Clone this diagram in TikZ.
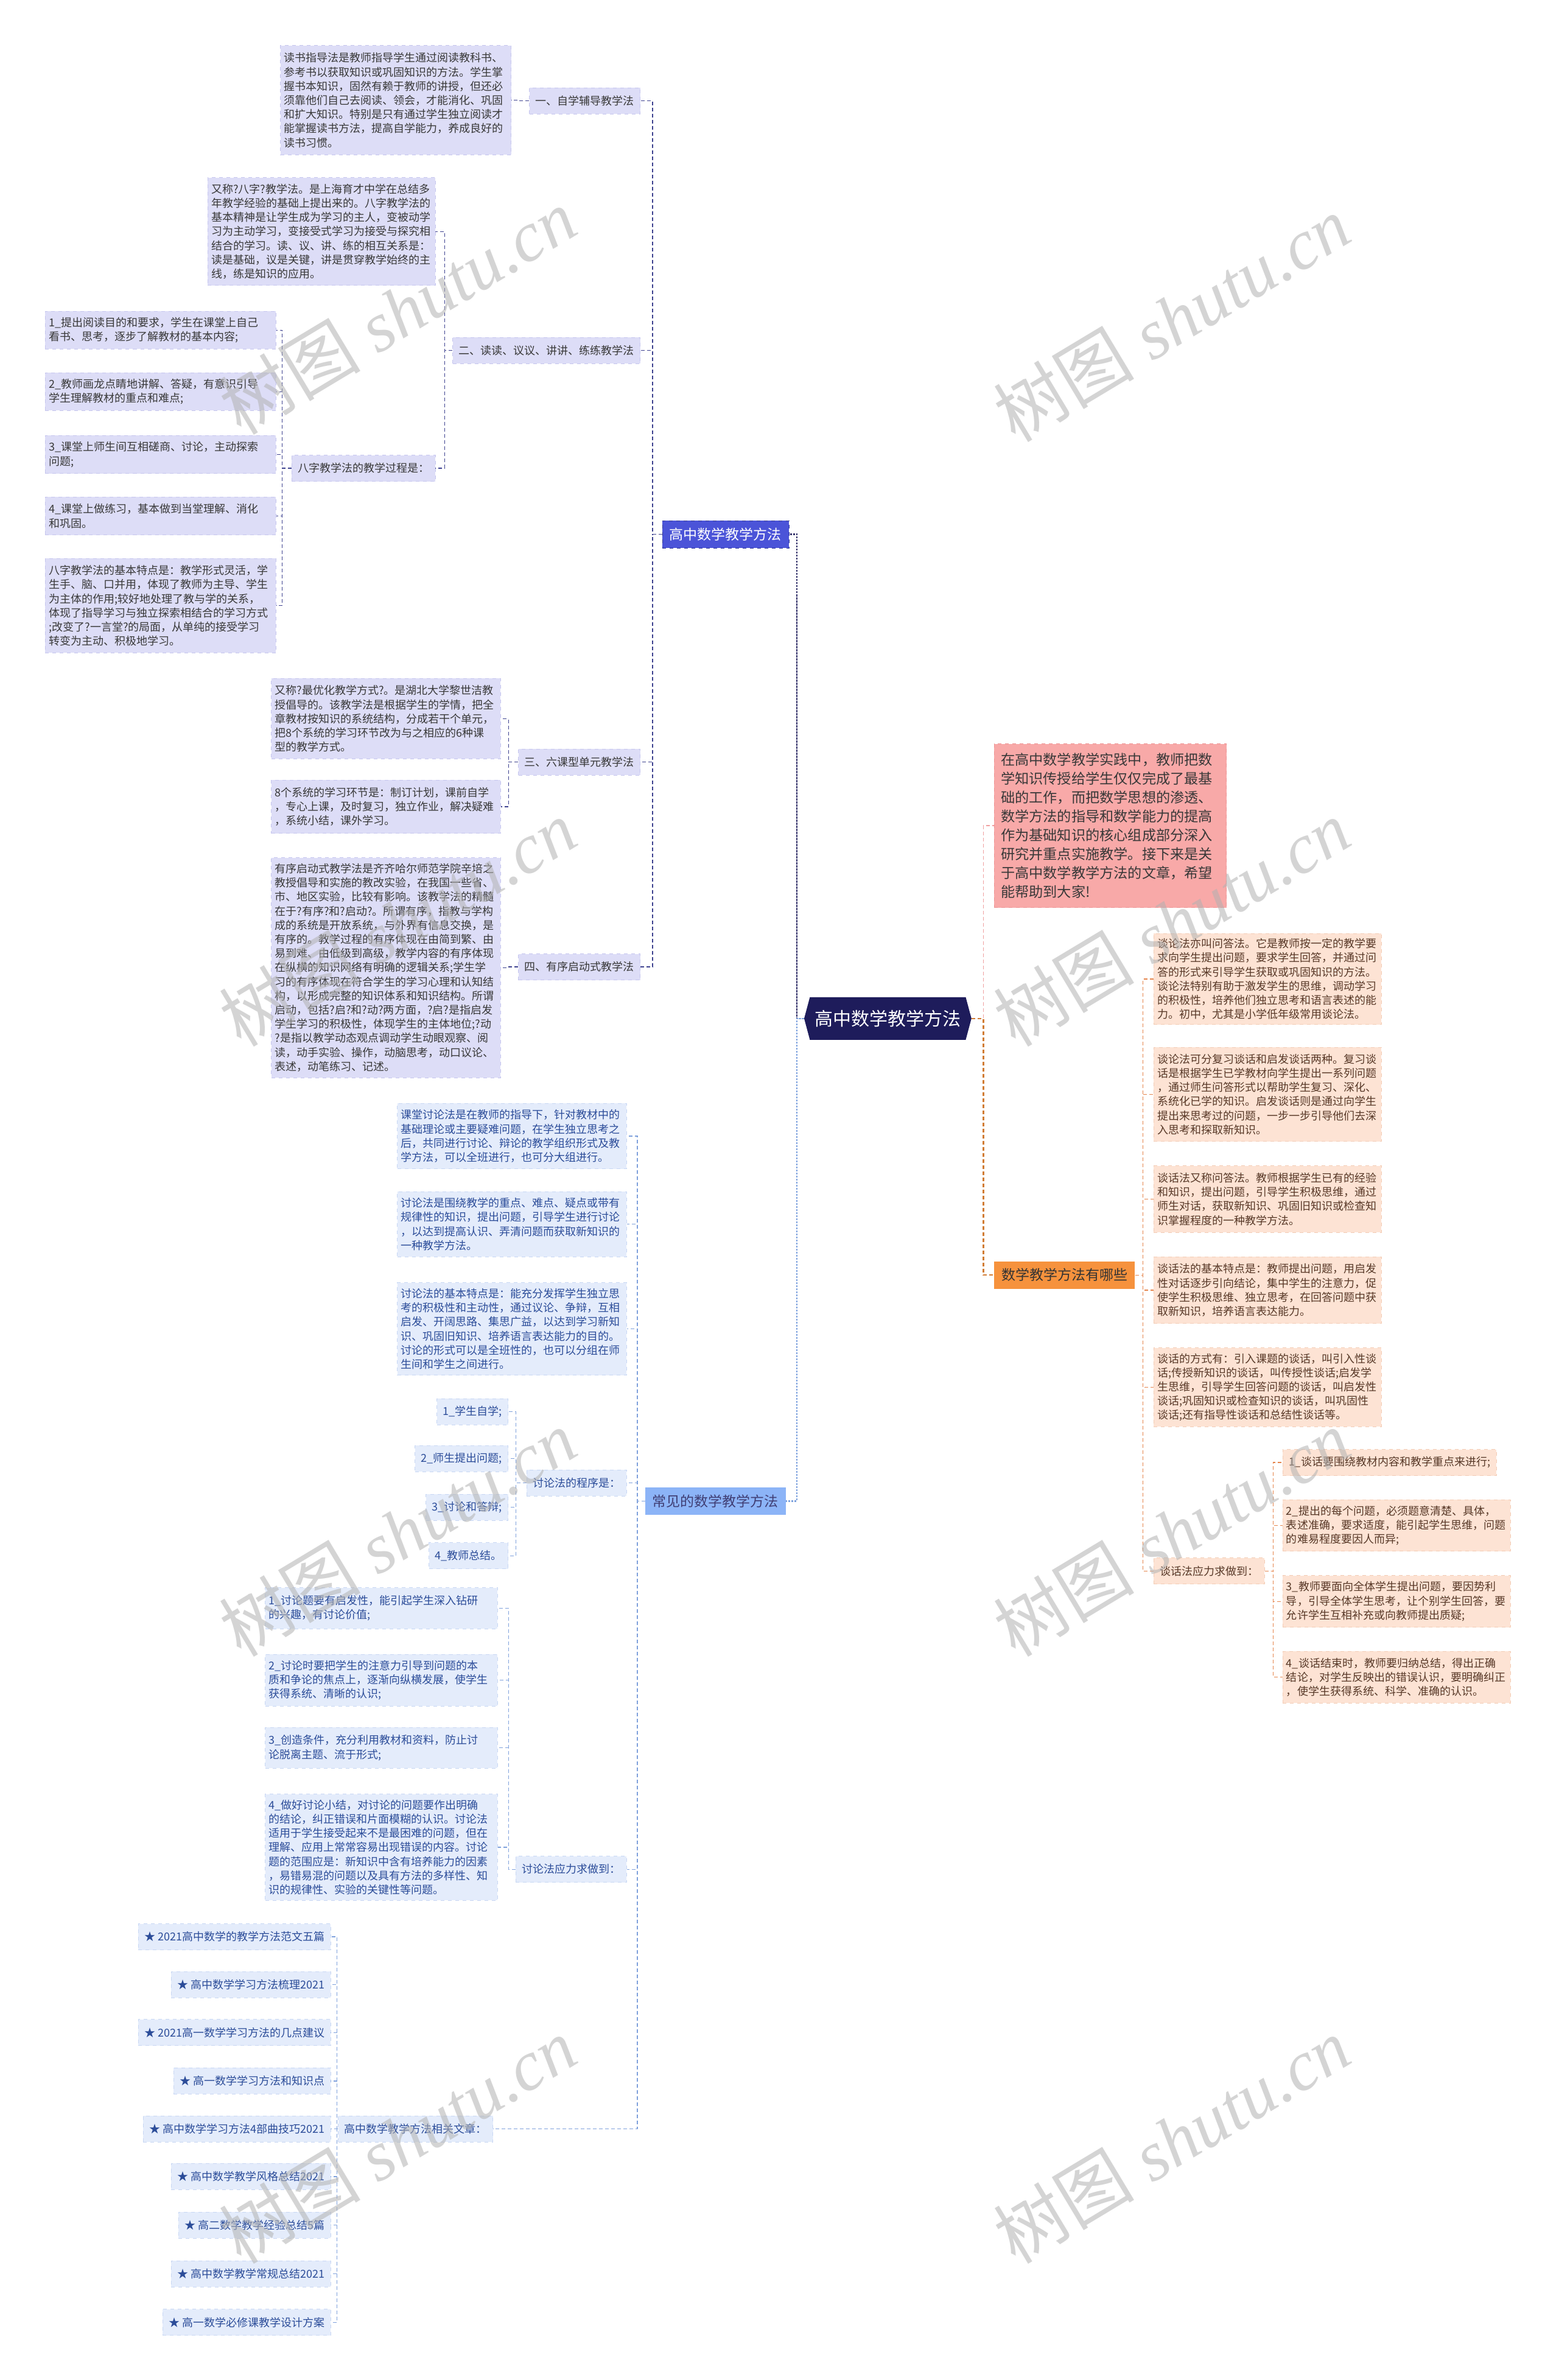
\documentclass[tikz,border=0pt]{standalone}
\usepackage{fontspec}
\setmainfont{Noto Sans CJK SC}
\newfontfamily\wmserif{Liberation Serif}
\usetikzlibrary{shapes.symbols}
\definecolor{navyC}{HTML}{1E1C5B}
\definecolor{blueL}{HTML}{4B54D8}
\definecolor{lavC}{HTML}{DDDDF7}
\definecolor{lavD}{HTML}{C6C6EE}
\definecolor{txtC}{HTML}{383838}
\definecolor{uline}{HTML}{3D418F}
\definecolor{lblueL}{HTML}{8CB4F7}
\definecolor{lbF}{HTML}{E4ECFB}
\definecolor{lbD}{HTML}{C8D7F3}
\definecolor{lbT}{HTML}{2B4C99}
\definecolor{lline}{HTML}{7FA1DC}
\definecolor{pinkC}{HTML}{F8A9A8}
\definecolor{pinkD}{HTML}{EE9494}
\definecolor{orC}{HTML}{F6923D}
\definecolor{peachC}{HTML}{FDE3D4}
\definecolor{peachD}{HTML}{F3CCB5}
\definecolor{peachT}{HTML}{573827}
\definecolor{oline}{HTML}{E5844B}
\definecolor{pline}{HTML}{F0A0A0}
\tikzset{
  body/.style={font=\fontsize{9}{11.6}\selectfont, align=left, inner xsep=3pt, inner ysep=2pt},
  ub/.style={body, fill=lavC, draw=lavD, dashed, line width=0.4pt, text=txtC},
  lb/.style={body, fill=lbF, draw=lbD, dashed, line width=0.4pt, text=lbT},
  pb/.style={body, fill=peachC, draw=peachD, dashed, line width=0.4pt, text=peachT},
  lab/.style={font=\fontsize{9}{11}\selectfont, inner xsep=5pt, inner ysep=0pt, minimum height=21.5pt, dashed, line width=0.4pt},
  ul/.style={lab, fill=lavC, draw=lavD, text=txtC},
  ll/.style={lab, fill=lbF, draw=lbD, text=lbT},
  pl/.style={lab, fill=peachC, draw=peachD, text=peachT},
  lone/.style={font=\fontsize{11.5}{12}\selectfont, inner xsep=6pt, inner ysep=0pt, minimum height=22.4pt},
  ucon/.style={draw=uline, dash pattern=on 3pt off 2pt, line width=0.6pt},
  lcon/.style={draw=lline, dash pattern=on 3pt off 2pt, line width=0.6pt},
  ocon/.style={draw=oline, dash pattern=on 3pt off 2pt, line width=0.6pt},
  wm/.style={rotate=31, text=black!30, opacity=0.55, font=\fontsize{58}{60}\selectfont}
}
\begin{document}
\begin{tikzpicture}[x=1.24635pt,y=-1.24635pt]
\fill[white] (0,0) rectangle (1027,1568);
\useasboundingbox (0,0) rectangle (1027,1568);

% ---------- center ----------
\node[signal, signal to=west and east, signal pointer angle=150, fill=navyC, text=white,
  font=\fontsize{15}{16}\selectfont, minimum width=137pt, minimum height=35pt, inner xsep=4pt] (ctr) at (585,671) {高中数学教学方法};

% ---------- level 1 ----------
\node[lone, anchor=east, fill=blueL, text=white, draw=blueL!70!black, dashed, line width=0.4pt] (L1a) at (520,352) {高中数学教学方法};
\node[lone, anchor=east, fill=lblueL, text=navyC!85] (L1b) at (518,989) {常见的数学教学方法};
\node[lone, anchor=west, fill=orC, text=black!80] (L1c) at (655,840) {数学教学方法有哪些};
\node[body, anchor=west, fill=pinkC, draw=pinkD, dashed, line width=0.4pt, text=txtC,
  font=\fontsize{11.6}{15.5}\selectfont, inner xsep=5pt, minimum width=190.7pt, minimum height=134.6pt, text width=180pt] (intro) at (655,544)
  {在高中数学教学实践中，教师把数\\学知识传授给学生仅仅完成了最基\\础的工作，而把数学思想的渗透、\\数学方法的指导和数学能力的提高\\作为基础知识的核心组成部分深入\\研究并重点实施教学。接下来是关\\于高中数学教学方法的文章，希望\\能帮助到大家!};

% ---------- upper left branch ----------
\node[ul, anchor=east] (u1) at (422,66.5) {一、自学辅导教学法};
\node[ub, anchor=east, minimum width=189.4pt, minimum height=89.7pt, text width=183.4pt] (t1) at (337,66)
  {读书指导法是教师指导学生通过阅读教科书、\\参考书以获取知识或巩固知识的方法。学生掌\\握书本知识，固然有赖于教师的讲授，但还必\\须靠他们自己去阅读、领会，才能消化、巩固\\和扩大知识。特别是只有通过学生独立阅读才\\能掌握读书方法，提高自学能力，养成良好的\\读书习惯。};
\node[ul, anchor=east] (u2) at (422,231) {二、读读、议议、讲讲、练练教学法};
\node[ub, anchor=east, minimum width=187pt, minimum height=88.5pt, text width=181pt] (t2) at (287,152.5)
  {又称?八字?教学法。是上海育才中学在总结多\\年教学经验的基础上提出来的。八字教学法的\\基本精神是让学生成为学习的主人，变被动学\\习为主动学习，变接受式学习为接受与探究相\\结合的学习。读、议、讲、练的相互关系是：\\读是基础，议是关键，讲是贯穿教学始终的主\\线，练是知识的应用。};
\node[ul, anchor=east] (u2p) at (287,308.5) {八字教学法的教学过程是：};
\node[ub, anchor=east, minimum width=189.4pt, minimum height=31.2pt, text width=183.4pt] (i1) at (182,217.5)
  {1\_提出阅读目的和要求，学生在课堂上自己\\看书、思考，逐步了解教材的基本内容;};
\node[ub, anchor=east, minimum width=189.4pt, minimum height=31.2pt, text width=183.4pt] (i2) at (182,258)
  {2\_教师画龙点睛地讲解、答疑，有意识引导\\学生理解教材的重点和难点;};
\node[ub, anchor=east, minimum width=189.4pt, minimum height=31.2pt, text width=183.4pt] (i3) at (182,299.5)
  {3\_课堂上师生间互相磋商、讨论，主动探索\\问题;};
\node[ub, anchor=east, minimum width=189.4pt, minimum height=31.2pt, text width=183.4pt] (i4) at (182,340)
  {4\_课堂上做练习，基本做到当堂理解、消化\\和巩固。};
\node[ub, anchor=east, minimum width=189.4pt, minimum height=77.3pt, text width=183.4pt] (i5) at (182,399)
  {八字教学法的基本特点是：教学形式灵活，学\\生手、脑、口并用，体现了教师为主导、学生\\为主体的作用;较好地处理了教与学的关系，\\体现了指导学习与独立探索相结合的学习方式\\;改变了?一言堂?的局面，从单纯的接受学习\\转变为主动、积极地学习。};
\node[ul, anchor=east] (u3) at (422,502) {三、六课型单元教学法};
\node[ub, anchor=east, minimum width=188.2pt, minimum height=66pt, text width=182.2pt] (t3a) at (330,473.5)
  {又称?最优化教学方式?。是湖北大学黎世洁教\\授倡导的。该教学法是根据学生的学情，把全\\章教材按知识的系统结构，分成若干个单元，\\把8个系统的学习环节改为与之相应的6种课\\型的教学方式。};
\node[ub, anchor=east, minimum width=188.2pt, minimum height=43.6pt, text width=182.2pt] (t3b) at (330,531.5)
  {8个系统的学习环节是：制订计划，课前自学\\，专心上课，及时复习，独立作业，解决疑难\\，系统小结，课外学习。};
\node[ul, anchor=east] (u4) at (422,637) {四、有序启动式教学法};
\node[ub, anchor=east, minimum width=188.2pt, minimum height=180.7pt, text width=182.2pt] (t4) at (330,637.5)
  {有序启动式教学法是齐齐哈尔师范学院辛培之\\教授倡导和实施的教改实验，在我国一些省、\\市、地区实验，比较有影响。该教学法的精髓\\在于?有序?和?启动?。所谓有序，指教与学构\\成的系统是开放系统，与外界有信息交换，是\\有序的。教学过程的有序体现在由简到繁、由\\易到难、由低级到高级，教学内容的有序体现\\在纵横的知识网络有明确的逻辑关系;学生学\\习的有序体现在符合学生的学习心理和认知结\\构，以形成完整的知识体系和知识结构。所谓\\启动，包括?启?和?动?两方面，?启?是指启发\\学生学习的积极性，体现学生的主体地位;?动\\?是指以教学动态观点调动学生动眼观察、阅\\读，动手实验、操作，动脑思考，动口议论、\\表述，动笔练习、记述。};

% ---------- lower left branch ----------
\node[lb, anchor=east, minimum width=188.2pt, minimum height=53.6pt, text width=182.2pt] (d1) at (413,748.5)
  {课堂讨论法是在教师的指导下，针对教材中的\\基础理论或主要疑难问题，在学生独立思考之\\后，共同进行讨论、辩论的教学组织形式及教\\学方法，可以全班进行，也可分大组进行。};
\node[lb, anchor=east, minimum width=188.2pt, minimum height=53.6pt, text width=182.2pt] (d2) at (413,806.5)
  {讨论法是围绕教学的重点、难点、疑点或带有\\规律性的知识，提出问题，引导学生进行讨论\\，以达到提高认识、弄清问题而获取新知识的\\一种教学方法。};
\node[lb, anchor=east, minimum width=188.2pt, minimum height=76pt, text width=182.2pt] (d3) at (413,875.5)
  {讨论法的基本特点是：能充分发挥学生独立思\\考的积极性和主动性，通过议论、争辩，互相\\启发、开阔思路、集思广益，以达到学习新知\\识、巩固旧知识、培养语言表达能力的目的。\\讨论的形式可以是全班性的，也可以分组在师\\生间和学生之间进行。};
\node[ll, anchor=east] (dp) at (413,977) {讨论法的程序是：};
\node[ll, anchor=east] (s1) at (335,930) {1\_学生自学;};
\node[ll, anchor=east] (s2) at (335,961) {2\_师生提出问题;};
\node[ll, anchor=east] (s3) at (335,993) {3\_讨论和答辩;};
\node[ll, anchor=east] (s4) at (335,1025) {4\_教师总结。};
\node[ll, anchor=east] (dr) at (413,1231.5) {讨论法应力求做到：};
\node[lb, anchor=east, minimum width=190.7pt, minimum height=33.7pt, text width=184.7pt] (r1) at (328,1059.5)
  {1\_讨论题要有启发性，能引起学生深入钻研\\的兴趣，有讨论价值;};
\node[lb, anchor=east, minimum width=190.7pt, minimum height=42.4pt, text width=184.7pt] (r2) at (328,1107)
  {2\_讨论时要把学生的注意力引导到问题的本\\质和争论的焦点上，逐渐向纵横发展，使学生\\获得系统、清晰的认识;};
\node[lb, anchor=east, minimum width=190.7pt, minimum height=33.7pt, text width=184.7pt] (r3) at (328,1151.5)
  {3\_创造条件，充分利用教材和资料，防止讨\\论脱离主题、流于形式;};
\node[lb, anchor=east, minimum width=190.7pt, minimum height=87.2pt, text width=184.7pt] (r4) at (328,1217)
  {4\_做好讨论小结，对讨论的问题要作出明确\\的结论，纠正错误和片面模糊的认识。讨论法\\适用于学生接受起来不是最困难的问题，但在\\理解、应用上常常容易出现错误的内容。讨论\\题的范围应是：新知识中含有培养能力的因素\\，易错易混的问题以及具有方法的多样性、知\\识的规律性、实验的关键性等问题。};
\node[ll, anchor=east] (da) at (325,1402.5) {高中数学教学方法相关文章：};
\node[ll, anchor=east] (a1) at (218,1276) {★ 2021高中数学的教学方法范文五篇};
\node[ll, anchor=east] (a2) at (218,1307.5) {★ 高中数学学习方法梳理2021};
\node[ll, anchor=east] (a3) at (218,1339) {★ 2021高一数学学习方法的几点建议};
\node[ll, anchor=east] (a4) at (218,1371) {★ 高一数学学习方法和知识点};
\node[ll, anchor=east] (a5) at (218,1402.5) {★ 高中数学学习方法4部曲技巧2021};
\node[ll, anchor=east] (a6) at (218,1434) {★ 高中数学教学风格总结2021};
\node[ll, anchor=east] (a7) at (218,1466) {★ 高二数学教学经验总结5篇};
\node[ll, anchor=east] (a8) at (218,1498) {★ 高中数学教学常规总结2021};
\node[ll, anchor=east] (a9) at (218,1530) {★ 高一数学必修课教学设计方案};

% ---------- right branch ----------
\node[pb, anchor=west, minimum width=187pt, minimum height=74.8pt, text width=181pt] (p1) at (760,645)
  {谈论法亦叫问答法。它是教师按一定的教学要\\求向学生提出问题，要求学生回答，并通过问\\答的形式来引导学生获取或巩固知识的方法。\\谈论法特别有助于激发学生的思维，调动学习\\的积极性，培养他们独立思考和语言表述的能\\力。初中，尤其是小学低年级常用谈论法。};
\node[pb, anchor=west, minimum width=187pt, minimum height=77.3pt, text width=181pt] (p2) at (760,721)
  {谈论法可分复习谈话和启发谈话两种。复习谈\\话是根据学生已学教材向学生提出一系列问题\\，通过师生问答形式以帮助学生复习、深化、\\系统化已学的知识。启发谈话则是通过向学生\\提出来思考过的问题，一步一步引导他们去深\\入思考和探取新知识。};
\node[pb, anchor=west, minimum width=187pt, minimum height=54.8pt, text width=181pt] (p3) at (760,790)
  {谈话法又称问答法。教师根据学生已有的经验\\和知识，提出问题，引导学生积极思维，通过\\师生对话，获取新知识、巩固旧知识或检查知\\识掌握程度的一种教学方法。};
\node[pb, anchor=west, minimum width=187pt, minimum height=54.8pt, text width=181pt] (p4) at (760,850)
  {谈话法的基本特点是：教师提出问题，用启发\\性对话逐步引向结论，集中学生的注意力，促\\使学生积极思维、独立思考，在回答问题中获\\取新知识，培养语言表达能力。};
\node[pb, anchor=west, minimum width=187pt, minimum height=64.8pt, text width=181pt] (p5) at (760,914)
  {谈话的方式有：引入课题的谈话，叫引入性谈\\话;传授新知识的谈话，叫传授性谈话;启发学\\生思维，引导学生回答问题的谈话，叫启发性\\谈话;巩固知识或检查知识的谈话，叫巩固性\\谈话;还有指导性谈话和总结性谈话等。};
\node[pl, anchor=west] (pq) at (760,1035) {谈话法应力求做到：};
\node[pl, anchor=west] (q1) at (845,963.5) {1\_谈话要围绕教材内容和教学重点来进行;};
\node[pb, anchor=west, minimum width=187pt, minimum height=42.4pt, text width=181pt] (q2) at (845,1005)
  {2\_提出的每个问题，必须题意清楚、具体，\\表述准确，要求适度，能引起学生思维，问题\\的难易程度要因人而异;};
\node[pb, anchor=west, minimum width=187pt, minimum height=42.4pt, text width=181pt] (q3) at (845,1055)
  {3\_教师要面向全体学生提出问题，要因势利\\导，引导全体学生思考，让个别学生回答，要\\允许学生互相补充或向教师提出质疑;};
\node[pb, anchor=west, minimum width=187pt, minimum height=42.4pt, text width=181pt] (q4) at (845,1105)
  {4\_谈话结束时，教师要归纳总结，得出正确\\结论，对学生反映出的错误认识，要明确纠正\\，使学生获得系统、科学、准确的认识。};

% ---------- spines ----------
\coordinate (s0) at (525,0);
\coordinate (sR) at (648,0);
\coordinate (sU) at (430,0);
\coordinate (sU1) at (342,0);
\coordinate (sU2) at (293,0);
\coordinate (sU2p) at (186,0);
\coordinate (sU3) at (335,0);
\coordinate (sL) at (420,0);
\coordinate (sLp) at (340,0);
\coordinate (sLr) at (335,0);
\coordinate (sLa) at (222,0);
\coordinate (sP) at (753,0);
\coordinate (sQ) at (839,0);

% center connectors
\draw[draw=navyC!90, line width=1.3pt, dash pattern=on 1.6pt off 0.9pt] (ctr.west) -- (ctr.west -| s0) |- (L1a.east);
\draw[draw=lblueL!90!black, line width=1.3pt, dash pattern=on 1.6pt off 0.9pt] (ctr.west) -- (ctr.west -| s0) |- (L1b.east);
\draw[draw=pline, line width=0.9pt, dash pattern=on 3pt off 2pt] (ctr.east) -- (ctr.east -| sR) |- (intro.west);
\draw[draw=orC!85!black, line width=1.3pt, dash pattern=on 3pt off 2pt] (ctr.east) -- (ctr.east -| sR) |- (L1c.west);

% upper
\foreach \c in {u1,u2,u3,u4} \draw[ucon] (L1a.west) -- (L1a.west -| sU) |- (\c.east);
\draw[ucon] (u1.west) -- (u1.west -| sU1) |- (t1.east);
\foreach \c in {t2,u2p} \draw[ucon] (u2.west) -- (u2.west -| sU2) |- (\c.east);
\foreach \c in {i1,i2,i3,i4,i5} \draw[ucon] (u2p.west) -- (u2p.west -| sU2p) |- (\c.east);
\foreach \c in {t3a,t3b} \draw[ucon] (u3.west) -- (u3.west -| sU3) |- (\c.east);
\draw[ucon] (u4.west) -- (u4.west -| sU3) |- (t4.east);

% lower
\foreach \c in {d1,d2,d3,dp,dr,da} \draw[lcon] (L1b.west) -- (L1b.west -| sL) |- (\c.east);
\foreach \c in {s1,s2,s3,s4} \draw[lcon] (dp.west) -- (dp.west -| sLp) |- (\c.east);
\foreach \c in {r1,r2,r3,r4} \draw[lcon] (dr.west) -- (dr.west -| sLr) |- (\c.east);
\foreach \c in {a1,a2,a3,a4,a5,a6,a7,a8,a9} \draw[lcon] (da.west) -- (da.west -| sLa) |- (\c.east);

% right
\foreach \c in {p1,p2,p3,p4,p5,pq} \draw[ocon] (L1c.east) -- (L1c.east -| sP) |- (\c.west);
\foreach \c in {q1,q2,q3,q4} \draw[ocon] (pq.east) -- (pq.east -| sQ) |- (\c.west);

% ---------- watermarks ----------
\foreach \wx/\wy [count=\k] in {262/205,772/210,262/608,772/608,262/1010,772/1010,262/1410,772/1410}
  \node[wm] (wm\k) at (\wx,\wy) {树图\hspace{0.25em}{\wmserif\itshape shutu.cn}};
\end{tikzpicture}
\end{document}
